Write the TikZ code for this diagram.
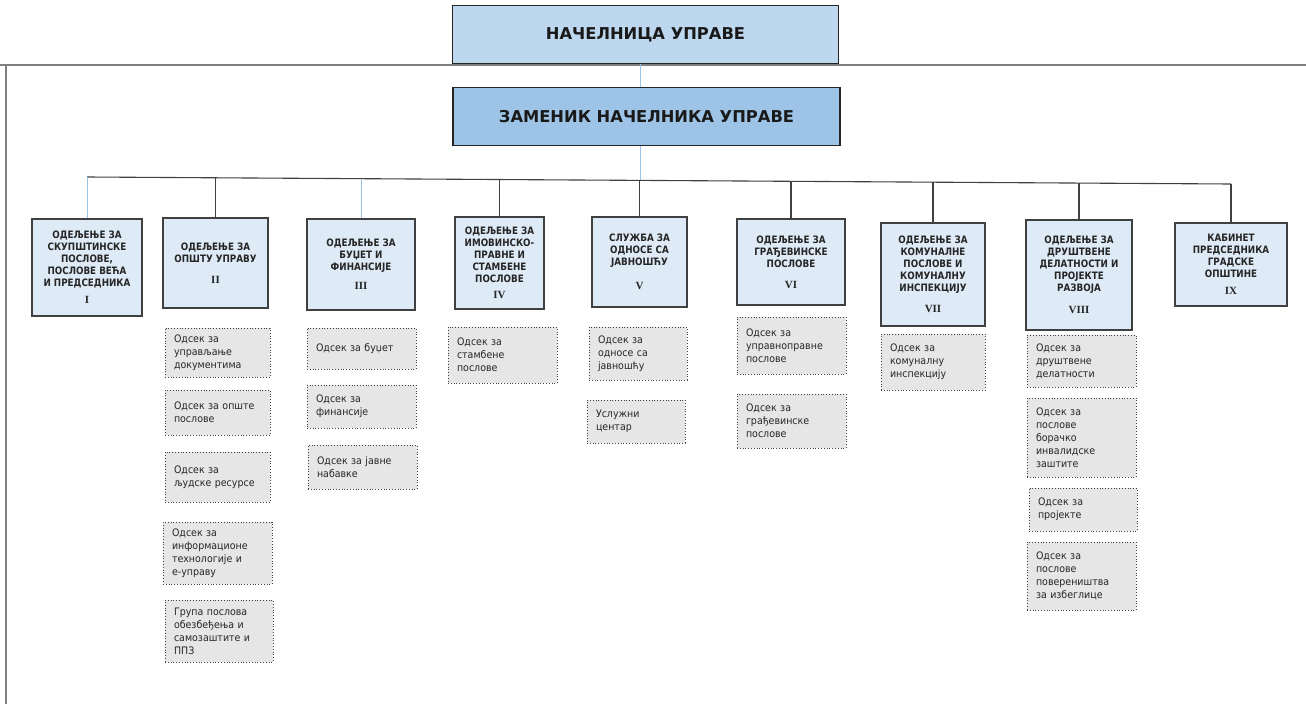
\documentclass[tikz,border=0pt]{standalone}
\usepackage{fontspec}
\setmainfont{DejaVu Sans}
\newfontfamily\titlefont{DejaVu Sans}
\newfontfamily\deptfont[FakeStretch=0.86]{DejaVu Sans}
\newfontfamily\subfont[FakeStretch=0.92]{DejaVu Sans}
\newfontfamily\romfont{Liberation Serif}
\definecolor{topfill}{HTML}{BDD7EE}
\definecolor{midfill}{HTML}{9DC3E6}
\definecolor{deptfill}{HTML}{DEEAF6}
\definecolor{subfill}{HTML}{E7E6E6}
\definecolor{lineblue}{HTML}{9DC3E6}
\definecolor{darkline}{HTML}{404040}
\definecolor{framegray}{HTML}{808080}
\definecolor{txt}{HTML}{262626}
\tikzset{
  frameline/.style={draw=framegray, line width=1.4pt},
  headbox/.style={draw=black!85, line width=1.8pt, inner sep=0pt, align=center,
    text=black!90, font=\titlefont\bfseries\fontsize{16.3}{20}\selectfont},
  deptbox/.style={draw=darkline, fill=deptfill, line width=1.1pt, inner sep=0pt, align=center,
    text=txt, font=\deptfont\bfseries\fontsize{10.2}{12}\selectfont},
  subbox/.style={draw=darkline, fill=subfill, line width=0.8pt, dotted, inner sep=0pt,
    align=left, text=txt, font=\subfont\fontsize{10.3}{13}\selectfont},
  blueconn/.style={draw=lineblue, line width=1pt},
  darkconn/.style={draw=darkline, line width=1.1pt},
}
\newcommand\dept[6]{\node[deptbox, minimum width=#4pt, minimum height=#5pt] (#1) at (#2,#3) {#6};}
\newcommand\subsec[6]{%
  \pgfmathsetmacro\myw{#4-#2}\pgfmathsetmacro\myh{#5-#3}%
  \pgfmathsetmacro\mytw{#4-#2-18}%
  \pgfmathsetmacro\mycx{(#2+#4)/2}\pgfmathsetmacro\mycy{(#3+#5)/2}%
  \node[subbox, minimum width=\myw pt, minimum height=\myh pt, text width=\mytw pt] (#1) at (\mycx,\mycy) {#6};}
\newcommand\rom[1]{{\romfont\bfseries\fontsize{11}{12}\selectfont #1}}
\begin{document}
\begin{tikzpicture}[x=1pt,y=-1pt]
\useasboundingbox (0,0) rectangle (1306,704);
\fill[white] (0,0) rectangle (1306,704);
% frame
\draw[frameline] (0,65) -- (1306,65);
\draw[frameline] (6,65) -- (6,704);
% head boxes
\node[headbox, fill=topfill, minimum width=386pt, minimum height=58pt] (t1) at (645.5,34.5) {НАЧЕЛНИЦА УПРАВЕ};
\node[headbox, fill=midfill, minimum width=387pt, minimum height=58pt] (t2) at (646.5,116.5) {ЗАМЕНИК НАЧЕЛНИКА УПРАВЕ};
% bus coordinates
\coordinate (b1) at (87,177);
\coordinate (b2) at (215.5,177.79);
\coordinate (b3) at (361,178.68);
\coordinate (b4) at (499.5,179.52);
\coordinate (b5) at (639.5,180.38);
\coordinate (bc) at (640,180.4);
\coordinate (b6) at (791,181.31);
\coordinate (b7) at (933,182.18);
\coordinate (b8) at (1079,183.07);
\coordinate (b9) at (1231,184);
\draw[blueconn] (t1.south -| bc) -- (t2.north -| bc);
\draw[blueconn] (t2.south -| bc) -- (bc);
\draw[darkconn] (b1) -- (b9);
% departments
\dept{d1}{87}{267.5}{110}{97}{ОДЕЉЕЊЕ ЗА\\СКУПШТИНСКЕ\\ПОСЛОВЕ,\\ПОСЛОВЕ ВЕЋА\\И ПРЕДСЕДНИКА\\[5pt]\rom{I}}
\dept{d2}{215.5}{263}{105}{90}{ОДЕЉЕЊЕ ЗА\\ОПШТУ УПРАВУ\\[9pt]\rom{II}}
\dept{d3}{361}{264.5}{108}{91}{ОДЕЉЕЊЕ ЗА\\БУЏЕТ И\\ФИНАНСИЈЕ\\[7pt]\rom{III}}
\dept{d4}{499.5}{263}{89}{92}{ОДЕЉЕЊЕ ЗА\\ИМОВИНСКО-\\ПРАВНЕ И\\СТАМБЕНЕ\\ПОСЛОВЕ\\[4pt]\rom{IV}}
\dept{d5}{639.5}{262}{95}{90}{СЛУЖБА ЗА\\ОДНОСЕ СА\\ЈАВНОШЋУ\\[12pt]\rom{V}}
\dept{d6}{791}{262}{108}{86}{ОДЕЉЕЊЕ ЗА\\ГРАЂЕВИНСКЕ\\ПОСЛОВЕ\\[9pt]\rom{VI}}
\dept{d7}{933}{274.5}{104}{103}{ОДЕЉЕЊЕ ЗА\\КОМУНАЛНЕ\\ПОСЛОВЕ И\\КОМУНАЛНУ\\ИНСПЕКЦИЈУ\\[9pt]\rom{VII}}
\dept{d8}{1079}{275}{106}{110}{ОДЕЉЕЊЕ ЗА\\ДРУШТВЕНЕ\\ДЕЛАТНОСТИ И\\ПРОЈЕКТЕ\\РАЗВОЈА\\[10pt]\rom{VIII}}
\dept{d9}{1231}{264.5}{112}{83}{КАБИНЕТ\\ПРЕДСЕДНИКА\\ГРАДСКЕ\\ОПШТИНЕ\\[5pt]\rom{IX}}
% drops
\draw[blueconn] (b1) -- (d1.north);
\draw[darkconn] (b2) -- (d2.north);
\draw[blueconn] (b3) -- (d3.north);
\draw[darkconn] (b4) -- (d4.north);
\draw[darkconn] (b5) -- (d5.north);
\draw[darkconn] (b6) -- (d6.north);
\draw[darkconn] (b7) -- (d7.north);
\draw[darkconn] (b8) -- (d8.north);
\draw[darkconn] (b9) -- (d9.north);
% sections II
\subsec{s2a}{165}{328}{270}{377}{Одсек за\\управљање\\документима}
\subsec{s2b}{165}{390}{270}{435}{Одсек за опште\\послове}
\subsec{s2c}{165}{452}{270}{502}{Одсек за\\људске ресурсе}
\subsec{s2d}{163}{522}{272}{584}{Одсек за\\информационе\\технологије и\\е-управу}
\subsec{s2e}{165}{600}{273}{662}{Група послова\\обезбеђења и\\самозаштите и\\ППЗ}
% sections III
\subsec{s3a}{307}{328}{416}{369}{Одсек за буџет}
\subsec{s3b}{307}{385}{416}{428}{Одсек за\\финансије}
\subsec{s3c}{308}{445}{417}{489}{Одсек за јавне\\набавке}
% IV
\subsec{s4a}{448}{327}{557}{383}{Одсек за\\стамбене\\послове}
% V
\subsec{s5a}{589}{327}{687}{380}{Одсек за\\односе са\\јавношћу}
\subsec{s5b}{587}{400}{685}{443}{Услужни\\центар}
% VI
\subsec{s6a}{737}{317}{846}{374}{Одсек за\\управноправне\\послове}
\subsec{s6b}{737}{394}{846}{448}{Одсек за\\грађевинске\\послове}
% VII
\subsec{s7a}{881}{334}{985}{390}{Одсек за\\комуналну\\инспекцију}
% VIII
\subsec{s8a}{1027}{335}{1136}{387}{Одсек за\\друштвене\\делатности}
\subsec{s8b}{1027}{398}{1136}{477}{Одсек за\\послове\\борачко\\инвалидске\\заштите}
\subsec{s8c}{1029}{488}{1137}{531}{Одсек за\\пројекте}
\subsec{s8d}{1027}{542}{1136}{610}{Одсек за\\послове\\повереништва\\за избеглице}
\end{tikzpicture}
\end{document}
